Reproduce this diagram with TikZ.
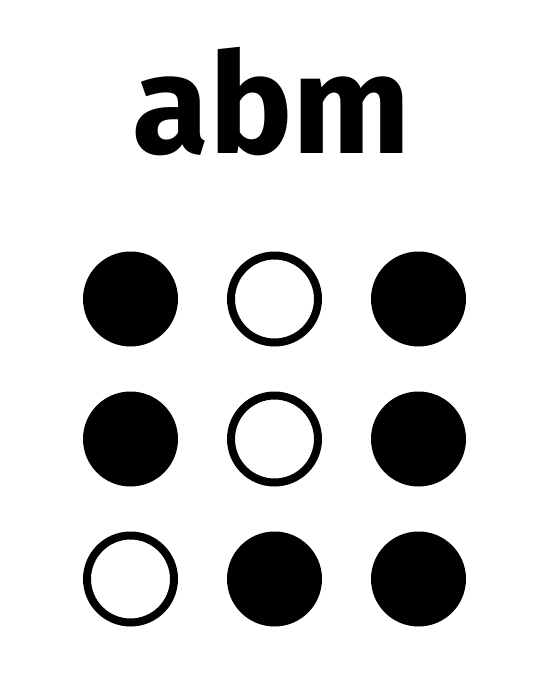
\documentclass[tikz,border=0pt]{standalone}
\usepackage{fontspec}
\newfontfamily\labelfont{Fira Sans}
\begin{document}
\begin{tikzpicture}[x=1pt,y=-1pt,
  dotfull/.style={fill=black},
  dotopen/.style={draw=black,line width=8pt,fill=white}]
\useasboundingbox[fill=white] (0,0) rectangle (540,673);
\node[anchor=base,inner sep=0pt,font=\labelfont\bfseries\fontsize{140}{140}\selectfont] (title) at (272,153) {abm};
% row 1
\fill[dotfull] (130.5,299) circle (47.5);
\draw[dotopen] (274.5,299) circle (43.5);
\fill[dotfull] (418.5,299) circle (47.5);
% row 2
\fill[dotfull] (130.5,439) circle (47.5);
\draw[dotopen] (274.5,439) circle (43.5);
\fill[dotfull] (418.5,439) circle (47.5);
% row 3
\draw[dotopen] (130.5,579) circle (43.5);
\fill[dotfull] (274.5,579) circle (47.5);
\fill[dotfull] (418.5,579) circle (47.5);
\end{tikzpicture}
\end{document}
